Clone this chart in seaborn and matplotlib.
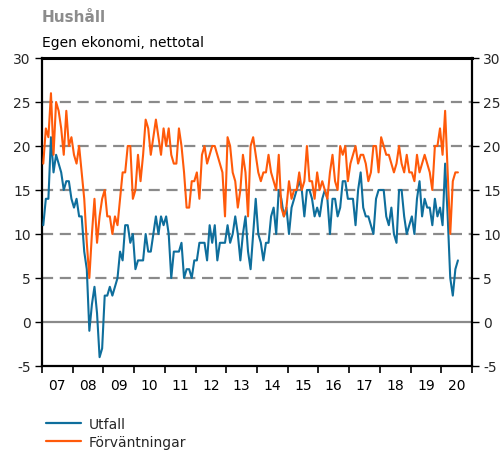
import numpy as np
import pandas as pd
import matplotlib
matplotlib.use("Agg")
import matplotlib.pyplot as plt
from matplotlib.lines import Line2D
import seaborn as sns

# ---------------- data ----------------
start_year = 2007
year_labels = ["07", "08", "09", "10", "11", "12", "13", "14", "15", "16", "17", "18", "19", "20"]
yticks = [-5, 0, 5, 10, 15, 20, 25, 30]

utfall = [
    11, 14, 14, 21, 17, 19, 18, 17, 15, 16, 16, 14,   # 2007
    13, 14, 12, 12, 8, 6, -1, 2, 4, 1, -4, -3,        # 2008
    3, 3, 4, 3, 4, 5, 8, 7, 11, 11, 9, 10,            # 2009
    6, 7, 7, 7, 10, 8, 8, 10, 12, 10, 12, 11,         # 2010
    12, 10, 5, 8, 8, 8, 9, 5, 6, 6, 5, 7,             # 2011
    7, 9, 9, 9, 7, 11, 9, 11, 7, 9, 9, 9,             # 2012
    11, 9, 10, 12, 10, 7, 10, 12, 8, 6, 10, 14,       # 2013
    10, 9, 7, 9, 9, 12, 13, 10, 15, 14, 12, 13,       # 2014
    10, 13, 14, 15, 16, 15, 12, 15, 15, 14, 12, 13,   # 2015
    12, 14, 15, 14, 10, 14, 14, 12, 13, 16, 16, 14,   # 2016
    14, 14, 11, 15, 17, 13, 12, 12, 11, 10, 14, 15,   # 2017
    15, 15, 12, 11, 13, 10, 9, 15, 15, 12, 10, 11,    # 2018
    12, 10, 14, 16, 12, 14, 13, 13, 11, 14, 12, 13,   # 2019
    11, 18, 12, 5, 3, 6, 7,                           # 2020
]

forvantningar = [
    18, 22, 21, 26, 19, 25, 24, 22, 19, 24, 20, 21,   # 2007
    19, 18, 20, 17, 14, 9, 5, 10, 14, 9, 12, 14,      # 2008
    15, 12, 12, 10, 12, 11, 14, 17, 17, 20, 20, 14,   # 2009
    15, 19, 16, 19, 23, 22, 19, 21, 23, 21, 19, 22,   # 2010
    20, 22, 19, 18, 18, 22, 20, 17, 13, 13, 16, 16,   # 2011
    17, 14, 19, 20, 18, 19, 20, 20, 19, 18, 17, 12,   # 2012
    21, 20, 17, 16, 13, 15, 19, 17, 12, 20, 21, 19,   # 2013
    17, 16, 17, 17, 19, 17, 16, 15, 19, 13, 12, 13,   # 2014
    16, 14, 15, 15, 17, 15, 16, 20, 16, 16, 14, 17,   # 2015
    15, 16, 15, 14, 17, 19, 16, 15, 20, 19, 20, 16,   # 2016
    18, 19, 20, 18, 19, 19, 18, 16, 17, 20, 20, 17,   # 2017
    21, 20, 19, 19, 18, 17, 18, 20, 18, 17, 19, 17,   # 2018
    17, 16, 19, 17, 18, 19, 18, 17, 15, 20, 20, 22,   # 2019
    19, 24, 17, 10, 16, 17, 17,                       # 2020
]

series_names = ["Utfall", "Förväntningar"]
colors = ["#0e6e9c", "#ff5a0a"]

# ---------------- frame ----------------
n = len(utfall)
xpos = start_year + (np.arange(n) + 0.5) / 12.0
df = pd.concat([
    pd.DataFrame({"x": xpos, "value": utfall, "serie": series_names[0]}),
    pd.DataFrame({"x": xpos, "value": forvantningar, "serie": series_names[1]}),
], ignore_index=True)

sns.set_theme(style="white")
plt.rcParams["font.family"] = ["DejaVu Sans"]

W, H = 503, 452
fig = plt.figure(figsize=(W / 100, H / 100), dpi=100)
ax = fig.add_axes([42 / W, 1 - 367 / H, 430 / W, 308 / H])

# reference lines
for v in yticks:
    if v == 0:
        ax.axhline(v, color="#8a8a8a", lw=1.6, zorder=1)
    elif -5 < v < 30:
        ax.axhline(v, color="#8a8a8a", lw=1.6, ls=(0, (5, 3)), zorder=1)

sns.lineplot(data=df, x="x", y="value", hue="serie", hue_order=series_names,
             palette=colors, linewidth=1.5, legend=False, ax=ax, zorder=3)

nyears = len(year_labels)
ax.set_xlim(start_year, start_year + nyears)
ax.set_ylim(-5, 30)
ax.set_xlabel("")
ax.set_ylabel("")

# x: boundaries as major ticks, labels centered as minor
ax.set_xticks([start_year + k for k in range(nyears + 1)])
ax.set_xticklabels([""] * (nyears + 1))
ax.set_xticks([start_year + k + 0.5 for k in range(nyears)], minor=True)
ax.set_xticklabels(year_labels, minor=True)
ax.tick_params(axis="x", which="major", direction="out", length=5, width=1.2, color="black", bottom=True)
ax.tick_params(axis="x", which="minor", length=0, pad=9, labelsize=10, labelcolor="black")

ax.set_yticks(yticks)
ax.set_yticklabels([str(v) for v in yticks])
ax.tick_params(axis="y", which="major", direction="out", length=5, width=1.0, color="black",
               left=True, right=True, labelleft=True, labelright=True, labelsize=10, pad=3)

for s in ax.spines.values():
    s.set_visible(True)
    s.set_color("black")
    s.set_linewidth(1.6)
ax.spines["top"].set_linewidth(2.2)

# titles
fig.text(42 / W, 1 - 17 / H, "Hushåll", fontsize=11, fontweight="bold", color="#8c8c8c", va="center", ha="left")
fig.text(42 / W, 1 - 43 / H, "Egen ekonomi, nettotal", fontsize=10, color="black", va="center", ha="left")

# legend
handles = [Line2D([0], [0], color=c, lw=1.6) for c in colors]
fig.legend(handles, series_names, loc="upper left", bbox_to_anchor=(46 / W, 1 - 418 / H),
           frameon=False, fontsize=10, handlelength=2.5, handletextpad=0.6,
           labelspacing=0.3, borderaxespad=0, borderpad=0)

fig.savefig("out.png", dpi=100)
